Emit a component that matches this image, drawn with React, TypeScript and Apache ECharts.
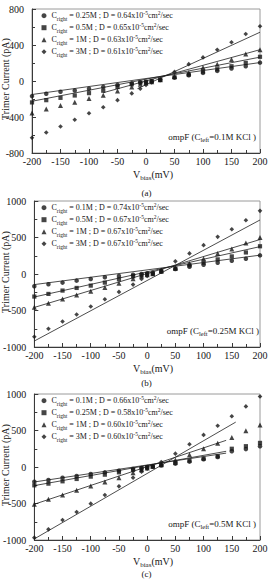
import { useEffect, useRef } from "react";
import * as echarts from "echarts";

// Bias voltages (mV) shared by every panel
const BIAS = [-200, -175, -150, -125, -100, -75, -50, -25, -10, 0, 10, 25, 50, 75, 100, 125, 150, 175, 200];

// Panel (a): C_left = 0.1M KCl
const A_CRIGHT = ["0.25M", "0.5M", "1M", "3M"];
const A_D = ["0.64", "0.65", "0.63", "0.61"];
const A_S1 = [-168, -142, -120, -105, -86, -67, -45, -26, -15, -11, -3, 11, 37, 63, 90, 112, 138, 164, 204];
const A_S2 = [-238, -213, -187, -161, -135, -108, -67, -37, -19, -11, -3, 13, 41, 71, 105, 131, 164, 201, 269];
const A_S3 = [-355, -310, -273, -235, -194, -157, -112, -67, -37, -19, -7, 15, 49, 93, 150, 187, 239, 299, 348];
const A_S4 = [-630, -572, -505, -430, -359, -292, -213, -138, -86, -45, -15, 20, 101, 187, 262, 348, 430, 523, 608];
const A_FIT1 = [[-200, -150], [200, 205]];
const A_FIT2 = [[-200, -225], [200, 265]];
const A_FIT3 = [[-75, -130], [200, 348]];
const A_FIT4 = [[-15, -85], [200, 542]];

// Panel (b): C_left = 0.25M KCl
const B_CRIGHT = ["0.1M", "0.5M", "1M", "3M"];
const B_D = ["0.74", "0.67", "0.67", "0.67"];
const B_S1 = [-168, -141, -118, -91, -68, -45, -27, -9, 0, 9, 14, 32, 68, 100, 127, 155, 182, 209, 255];
const B_S2 = [-309, -273, -227, -191, -159, -118, -73, -32, -14, 0, 5, 36, 73, 118, 155, 200, 241, 295, 380];
const B_S3 = [-455, -400, -341, -286, -236, -186, -127, -64, -27, -9, 2, 41, 82, 145, 209, 282, 341, 423, 500];
const B_S4 = [-860, -750, -650, -555, -445, -345, -245, -145, -68, -27, 0, 55, 173, 282, 395, 509, 614, 736, 865];
const B_FIT1 = [[-200, -145], [200, 258]];
const B_FIT2 = [[-200, -315], [200, 375]];
const B_FIT3 = [[-200, -458], [200, 472]];
const B_FIT4 = [[-200, -918], [200, 740]];

// Panel (c): C_left = 0.5M KCl
const C_CRIGHT = ["0.1M", "0.25M", "1M", "3M"];
const C_D = ["0.66", "0.58", "0.60", "0.60"];
const C_S1 = [-201, -178, -146, -123, -96, -73, -50, -27, -14, 0, 5, 23, 46, 73, 105, 137, 215, 245, 285];
const C_S2 = [-251, -228, -196, -164, -132, -105, -73, -41, -23, -5, 5, 23, 55, 87, 114, 146, 250, 285, 330];
const C_S3 = [-511, -443, -384, -320, -260, -205, -146, -78, -37, -14, 9, 37, 96, 169, 251, 324, 405, 495, 575];
const C_S4 = [-968, -854, -726, -616, -502, -384, -265, -146, -64, -23, 14, 68, 183, 311, 440, 565, 695, 830, 965];
const C_FIT1 = [[-200, -205], [140, 190]];
const C_FIT2 = [[-200, -255], [140, 215]];
const C_FIT3 = [[-200, -510], [140, 365]];
const C_FIT4 = [[-200, -985], [157, 615]];

// Y axis tick settings per panel
const Y_MIN = [-800, -1000, -1000];
const Y_MAX = [800, 1000, 1000];
const Y_STEP = [400, 500, 500];
const C_LEFT = ["0.1M", "0.25M", "0.5M"];
const TAGS = ["(a)", "(b)", "(c)"];

const SERIF = "'Liberation Serif', 'DejaVu Serif', serif";
const INK = "#161616";
const SYMBOLS = ["circle", "rect", "triangle", "diamond"];
const SYMBOL_SIZES = [4.5, 4.2, 5, 4.6];

const PANELS = [
  { top: 9, height: 144, cright: A_CRIGHT, d: A_D, points: [A_S1, A_S2, A_S3, A_S4], fits: [A_FIT1, A_FIT2, A_FIT3, A_FIT4] },
  { top: 201, height: 146, cright: B_CRIGHT, d: B_D, points: [B_S1, B_S2, B_S3, B_S4], fits: [B_FIT1, B_FIT2, B_FIT3, B_FIT4] },
  { top: 394, height: 146, cright: C_CRIGHT, d: C_D, points: [C_S1, C_S2, C_S3, C_S4], fits: [C_FIT1, C_FIT2, C_FIT3, C_FIT4] },
];

const GRID_LEFT = 32;
const GRID_WIDTH = 228;
const TAG_OFFSET = [39.5, 36, 34];

const richScript = {
  n: { fontSize: 8, lineHeight: 12, fontFamily: SERIF, color: INK },
  s: { fontSize: 5.5, lineHeight: 7, verticalAlign: "bottom", fontFamily: SERIF, color: INK },
  p: { fontSize: 5.5, lineHeight: 7, verticalAlign: "top", fontFamily: SERIF, color: INK },
};

function buildOption() {
  const grid: any[] = [];
  const xAxis: any[] = [];
  const yAxis: any[] = [];
  const legend: any[] = [];
  const series: any[] = [];
  const graphic: any[] = [];
  const legendText: Record<string, string> = {};

  PANELS.forEach((p, i) => {
    grid.push({
      left: GRID_LEFT,
      width: GRID_WIDTH,
      top: p.top,
      height: p.height,
      show: true,
      borderColor: "#9a9a9a",
      borderWidth: 1,
      backgroundColor: "transparent",
    });
    xAxis.push({
      gridIndex: i,
      type: "value",
      min: -200,
      max: 200,
      interval: 50,
      axisLine: { show: true, onZero: false, lineStyle: { color: "#3a3a3a", width: 1 } },
      axisTick: { show: true, inside: true, length: 4, lineStyle: { color: "#3a3a3a" } },
      minorTick: { show: true, splitNumber: 2, length: 3, lineStyle: { color: "#3a3a3a" } },
      axisLabel: { margin: 3, fontSize: 10, fontFamily: SERIF, color: INK, formatter: (v: number) => String(v) },
      splitLine: { show: false },
    });
    yAxis.push({
      gridIndex: i,
      type: "value",
      min: Y_MIN[i],
      max: Y_MAX[i],
      interval: Y_STEP[i],
      axisLine: { show: true, onZero: false, lineStyle: { color: "#3a3a3a", width: 1 } },
      axisTick: { show: true, inside: true, length: 4, lineStyle: { color: "#3a3a3a" } },
      minorTick: { show: true, splitNumber: 2, length: 3, lineStyle: { color: "#3a3a3a" } },
      axisLabel: { margin: 8, fontSize: 10, fontFamily: SERIF, color: INK, formatter: (v: number) => String(v) },
      splitLine: { show: false },
    });

    const names: string[] = [];
    p.points.forEach((ys, k) => {
      const name = `${TAGS[i]} ${p.cright[k]}`;
      names.push(name);
      legendText[name] =
        `{n|C}{s|right}{n| = ${p.cright[k]} ; D = ${p.d[k]}x10}{p|-5}{n|cm}{p|2}{n|/sec}`;
      series.push({
        name,
        type: "scatter",
        xAxisIndex: i,
        yAxisIndex: i,
        symbol: SYMBOLS[k],
        symbolSize: SYMBOL_SIZES[k],
        itemStyle: { color: INK },
        data: BIAS.map((v, j) => [v, ys[j]]),
        z: 3,
      });
    });
    p.fits.forEach((fit) => {
      series.push({
        type: "line",
        xAxisIndex: i,
        yAxisIndex: i,
        data: fit,
        symbol: "none",
        lineStyle: { color: "#202020", width: 0.8 },
        silent: true,
        z: 2,
      });
    });

    legend.push({
      orient: "vertical",
      left: 41.5,
      top: p.top + 0.7,
      padding: 0,
      itemGap: 0,
      itemWidth: 5,
      itemHeight: 5,
      selectedMode: false,
      data: names,
      formatter: (name: string) => legendText[name],
      textStyle: { fontSize: 8, lineHeight: 12, fontFamily: SERIF, color: INK, rich: richScript },
    });

    const bottom = p.top + p.height;
    const mid = p.top + p.height / 2;

    // y axis title
    graphic.push({
      type: "text",
      x: 5,
      y: mid - 2,
      rotation: Math.PI / 2,
      style: {
        text: "Trimer Current (pA)",
        fontSize: 10,
        fontFamily: SERIF,
        fill: INK,
        align: "center",
        verticalAlign: "middle",
      },
    });
    // x axis title
    graphic.push({
      type: "text",
      x: 153,
      y: bottom + 21,
      style: {
        text: "{m|V}{t|bias}{m|(mV)}",
        align: "center",
        verticalAlign: "middle",
        fontFamily: SERIF,
        fill: INK,
        rich: {
          m: { fontSize: 10, lineHeight: 14, fontFamily: SERIF, fill: INK },
          t: { fontSize: 7, lineHeight: 8, verticalAlign: "bottom", fontFamily: SERIF, fill: INK },
        },
      },
    });
    // panel tag
    graphic.push({
      type: "text",
      x: 146.5,
      y: bottom + TAG_OFFSET[i],
      style: { text: TAGS[i], fontSize: 9, fontFamily: SERIF, fill: INK, align: "center", verticalAlign: "middle" },
    });
    // condition label
    graphic.push({
      type: "text",
      x: i === 1 ? 259 : 256,
      y: bottom - 16.5,
      style: {
        text: `{m|ompF (C}{t|left}{m|=${C_LEFT[i]} KCl )}`,
        align: "right",
        verticalAlign: "middle",
        fontFamily: SERIF,
        fill: INK,
        rich: {
          m: { fontSize: 9, lineHeight: 13, fontFamily: SERIF, fill: INK },
          t: { fontSize: 6.5, lineHeight: 8, verticalAlign: "bottom", fontFamily: SERIF, fill: INK },
        },
      },
    });
  });

  return {
    animation: false,
    backgroundColor: "#ffffff",
    grid,
    xAxis,
    yAxis,
    legend,
    series,
    graphic,
  };
}

export default function App() {
  const ref = useRef<HTMLDivElement>(null);
  useEffect(() => {
    if (!ref.current) return;
    const chart = echarts.init(ref.current, null, { renderer: "svg" });
    chart.setOption(buildOption() as any);
    return () => chart.dispose();
  }, []);
  return (
    <div
      ref={ref}
      style={{ position: "absolute", left: 0, top: 0, width: 271, height: 580, background: "#fff" }}
    />
  );
}
